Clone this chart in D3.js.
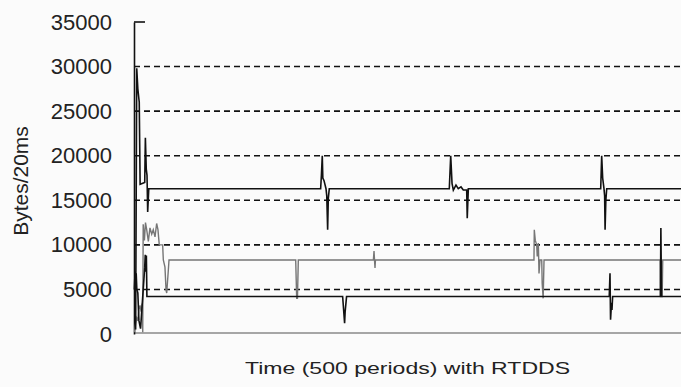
<!DOCTYPE html>
<html>
<head>
<meta charset="utf-8">
<script src="https://cdn.jsdelivr.net/npm/d3@7"></script>
<style>
  html, body { margin: 0; padding: 0; background: #fbfbfb; }
  svg { display: block; font-family: "Liberation Sans", Arial, sans-serif; }
</style>
</head>
<body>
<svg id="chart" width="681" height="387"></svg>
<script>
// y ticks (Bytes/20ms)
const yTicks = [0, 5000, 10000, 15000, 20000, 25000, 30000, 35000];
const gridTicks = [5000, 10000, 15000, 20000, 25000, 30000];

// [period, bytes]
// black, upper flow (~16300)
const upperFlow = [
  [1.5, 500], [2.5, 29800], [3.5, 27500], [4.8, 26000], [5.6, 16800], [9.8, 17000],
  [10.4, 22000], [11.2, 18500], [11.9, 17800], [12.5, 13700], [13.5, 16300],
  [170.6, 16300], [171.3, 17800], [172.1, 20000], [172.6, 17500], [173.7, 17200],
  [175.5, 16300], [176.2, 15500], [177, 11700], [177.6, 15200], [178.5, 16300],
  [288.2, 16300], [289.5, 20000], [290.7, 16900], [291.9, 16150], [294.3, 16700],
  [296.4, 16300], [298.9, 16500], [301, 16150], [304.1, 16150], [304.6, 13000],
  [305.6, 16300],
  [426.6, 16300], [427.5, 20000], [428.4, 17500], [429.6, 16300], [430.2, 15500],
  [430.6, 11700], [431.3, 15000], [432.1, 16300], [500, 16300]
];
// grey, middle flow (~8300)
const middleFlow = [
  [0.5, 200], [1.5, 1200], [2.5, 1800], [3.5, 1500], [4.5, 2800], [5.5, 3200],
  [6.5, 2500], [7.5, 3400], [8.0, 200], [8.4, 12300], [9.5, 10500], [10.5, 12500],
  [11.6, 11700], [13.1, 10400], [14.6, 11900], [16.2, 11200], [17.6, 11700],
  [19.2, 10900], [20.7, 12400], [21.9, 11700], [23.1, 10000], [26.2, 10000],
  [26.8, 8300], [28.3, 7500], [29.3, 4900], [29.9, 4600], [31.4, 7200], [32, 8300],
  [147.8, 8300], [148.7, 4000], [149.4, 4000], [150.2, 8300],
  [218.8, 8300], [219.4, 9300], [220, 8000], [220.3, 7400], [220.7, 8300],
  [365.6, 8300], [365.9, 11700], [366.8, 10500], [368.1, 10000], [368.6, 8700],
  [369.6, 10200], [370.2, 6800], [371.1, 8300], [372.7, 8300], [373.1, 5700],
  [374, 4000], [374.8, 8300],
  [480.9, 8300], [481.3, 4200], [482.8, 4200], [483.3, 8300], [500, 8300]
];
// black, lower flow (~4200)
const lowerFlow = [
  [0.3, 5000], [1, 7000], [1.5, 5200], [2, 6800], [2.6, 5000], [3.5, 4600],
  [4.5, 1500], [6, 600], [9.8, 7500], [10.3, 8900], [10.8, 7000], [11.3, 8800],
  [11.8, 4200],
  [190.7, 4200], [191.5, 2900], [192.5, 1200], [193, 2500], [194.3, 4200],
  [434.4, 4200], [435.1, 6800], [435.6, 1600], [436.5, 3500], [436.9, 2700],
  [437.5, 4200],
  [481.2, 4200], [481.6, 11900], [482.2, 4200], [500, 4200]
];

const margin = { top: 22, right: 0, bottom: 54, left: 134 };
const width = 681, height = 387;

const svg = d3.select("#chart");

const x = d3.scaleLinear().domain([0, 500]).range([margin.left, width - margin.right]);
const y = d3.scaleLinear().domain([0, 35000]).range([height - margin.bottom + 1, margin.top]);

// dashed grid lines
svg.append("g")
  .selectAll("line")
  .data(gridTicks)
  .join("line")
  .attr("x1", x(0))
  .attr("x2", x(500))
  .attr("y1", d => y(d))
  .attr("y2", d => y(d))
  .attr("stroke", "#111")
  .attr("stroke-width", 1.6)
  .attr("stroke-dasharray", "6,4");

// bottom axis line (grey)
svg.append("line")
  .attr("x1", x(0)).attr("x2", x(500))
  .attr("y1", y(0) - 1).attr("y2", y(0) - 1)
  .attr("stroke", "#8a8a8a")
  .attr("stroke-width", 1.5);

// y axis with labels
const yAxis = d3.axisLeft(y)
  .tickValues(yTicks)
  .tickSizeInner(0)
  .tickSizeOuter(0)
  .tickPadding(22)
  .tickFormat(d3.format("d"));

const gy = svg.append("g")
  .attr("transform", `translate(${margin.left},0)`)
  .call(yAxis);
gy.select(".domain").attr("stroke", "#111").attr("stroke-width", 1.6);
gy.selectAll("text")
  .attr("font-size", 22)
  .attr("fill", "#222")
  .attr("font-family", "'Liberation Sans', Arial, sans-serif");

// short top edge
svg.append("line")
  .attr("x1", x(0)).attr("x2", x(0) + 11)
  .attr("y1", y(35000)).attr("y2", y(35000))
  .attr("stroke", "#111")
  .attr("stroke-width", 1.6);

const line = d3.line()
  .x(d => x(d[0]))
  .y(d => y(d[1]));

svg.append("path")
  .datum(middleFlow)
  .attr("d", line)
  .attr("fill", "none")
  .attr("stroke", "#767676")
  .attr("stroke-width", 1.4);

svg.append("path")
  .datum(lowerFlow)
  .attr("d", line)
  .attr("fill", "none")
  .attr("stroke", "#111")
  .attr("stroke-width", 1.6);

svg.append("path")
  .datum(upperFlow)
  .attr("d", line)
  .attr("fill", "none")
  .attr("stroke", "#111")
  .attr("stroke-width", 1.6);

// axis titles
svg.append("text")
  .attr("transform", "translate(28,181) rotate(-90)")
  .attr("text-anchor", "middle")
  .attr("font-size", 21)
  .attr("fill", "#222")
  .text("Bytes/20ms");

svg.append("text")
  .attr("x", 245)
  .attr("y", 373.5)
  .attr("font-size", 17)
  .attr("textLength", 325)
  .attr("lengthAdjust", "spacingAndGlyphs")
  .attr("fill", "#222")
  .text("Time (500 periods) with RTDDS");
</script>
</body>
</html>
